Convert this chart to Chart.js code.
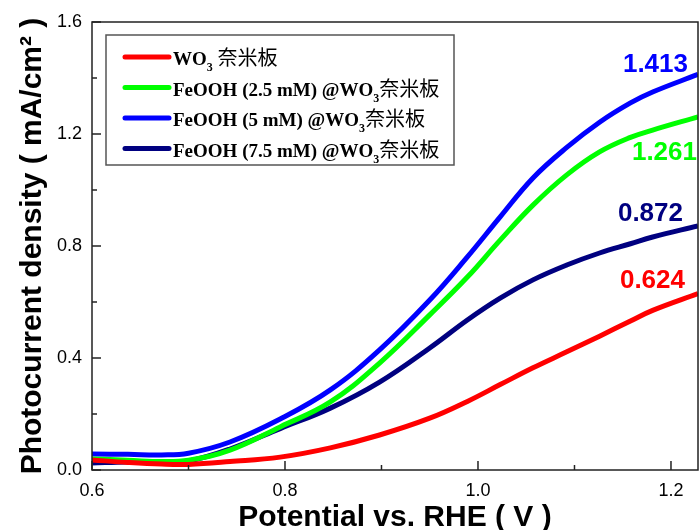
<!DOCTYPE html>
<html>
<head>
<meta charset="utf-8">
<script src="https://cdn.jsdelivr.net/npm/chart.js@4.4.0/dist/chart.umd.min.js"></script>
<style>
html, body { margin: 0; padding: 0; background: #fff; }
</style>
</head>
<body>
<canvas id="graficoLSV" width="700" height="530"></canvas>
<script>
// potencial (V vs RHE) e densidade de fotocorrente (mA/cm2)
const potencial = [0.600, 0.637, 0.672, 0.700, 0.743, 0.795, 0.847, 0.898, 0.950, 0.989, 1.023, 1.057, 1.092, 1.126, 1.158, 1.181, 1.228];
const wo3      = [0.036, 0.027, 0.021, 0.020, 0.030, 0.046, 0.079, 0.125, 0.185, 0.245, 0.305, 0.365, 0.422, 0.478, 0.532, 0.570, 0.630];
const feooh25  = [0.039, 0.035, 0.030, 0.035, 0.071, 0.154, 0.243, 0.382, 0.554, 0.689, 0.821, 0.946, 1.054, 1.136, 1.188, 1.214, 1.261];
const feooh5   = [0.057, 0.056, 0.054, 0.060, 0.100, 0.182, 0.286, 0.429, 0.607, 0.761, 0.904, 1.043, 1.152, 1.242, 1.311, 1.350, 1.413];
const feooh75  = [0.025, 0.029, 0.028, 0.032, 0.075, 0.148, 0.221, 0.314, 0.436, 0.536, 0.614, 0.679, 0.732, 0.775, 0.808, 0.832, 0.872];

const rotulos = ['WO_3 奈米板', 'FeOOH (2.5 mM) @WO_3奈米板', 'FeOOH (5 mM) @WO_3奈米板', 'FeOOH (7.5 mM) @WO_3奈米板'];
const cores = ['#ff0000', '#00ff00', '#0000ff', '#000080'];
const valoresFinais = ['0.624', '1.261', '1.413', '0.872'];

const ticksX = [0.6, 0.7, 0.8, 0.9, 1.0, 1.1, 1.2];
const ticksY = [0.0, 0.2, 0.4, 0.6, 0.8, 1.0, 1.2, 1.4, 1.6];

const series = [wo3, feooh25, feooh5, feooh75];

// texto com subscrito "3" (WO3) e caracteres chineses
function textoRico(ctx, txt, x, y) {
    let cx = x;
    txt.split('_3').forEach((parte, i) => {
        if (i > 0) {
            ctx.font = 'bold 12px "Liberation Serif"';
            ctx.fillText('3', cx, y + 6);
            cx += ctx.measureText('3').width;
        }
        for (const ch of parte) {
            ctx.font = ch.charCodeAt(0) > 0x2e80 ? '20px "Noto Sans CJK TC"' : 'bold 19px "Liberation Serif"';
            ctx.fillText(ch, cx, y);
            cx += ctx.measureText(ch).width;
        }
    });
}

const moldura = {
    id: 'moldura',
    afterDatasetsDraw(chart) {
        const { ctx, chartArea: a, scales: { x, y } } = chart;
        ctx.save();
        ctx.strokeStyle = '#222';
        ctx.lineWidth = 1.5;
        ctx.strokeRect(a.left, a.top, a.right - a.left, a.bottom - a.top);
        // ticks para dentro
        ticksX.forEach((v, i) => {
            const px = x.getPixelForValue(v);
            const len = i % 2 === 0 ? 9 : 5;
            ctx.beginPath(); ctx.moveTo(px, a.bottom); ctx.lineTo(px, a.bottom - len); ctx.stroke();
        });
        ticksY.forEach((v, i) => {
            const py = y.getPixelForValue(v);
            const len = i % 2 === 0 ? 9 : 5;
            ctx.beginPath(); ctx.moveTo(a.left, py); ctx.lineTo(a.left + len, py); ctx.stroke();
        });

        // legenda
        const bx = 106, by = 35, bw = 348, bh = 130;
        ctx.fillStyle = '#fff';
        ctx.fillRect(bx, by, bw, bh);
        ctx.strokeStyle = '#555';
        ctx.lineWidth = 1.5;
        ctx.strokeRect(bx, by, bw, bh);
        ctx.textBaseline = 'alphabetic';
        ctx.textAlign = 'left';
        rotulos.forEach((r, i) => {
            const ly = 57 + i * 30.5;
            ctx.strokeStyle = cores[i];
            ctx.lineWidth = 5;
            ctx.lineCap = 'round';
            ctx.beginPath(); ctx.moveTo(125, ly); ctx.lineTo(169, ly); ctx.stroke();
            ctx.fillStyle = '#000';
            textoRico(ctx, r, 173, ly + 8);
        });

        // valores finais
        const desloc = [[-13, -13], [-1, 36], [-10, -10], [-15, -12]];
        ctx.font = 'bold 26px "Liberation Sans"';
        ctx.textAlign = 'right';
        ctx.textBaseline = 'middle';
        valoresFinais.forEach((t, i) => {
            const s = series[i];
            const px = x.getPixelForValue(potencial[potencial.length - 1]);
            const py = y.getPixelForValue(s[s.length - 1]);
            ctx.fillStyle = cores[i];
            ctx.fillText(t, px + desloc[i][0], py + desloc[i][1]);
        });
        ctx.restore();
    }
};

const ctx = document.getElementById('graficoLSV');
new Chart(ctx, {
    type: 'line',
    data: {
        datasets: series.map((s, i) => ({
            label: rotulos[i],
            data: s.map((v, k) => ({ x: potencial[k], y: v })),
            borderColor: cores[i],
            borderWidth: 5,
            pointRadius: 0,
            fill: false,
            tension: 0.4
        }))
    },
    options: {
        responsive: false,
        animation: false,
        layout: { padding: { top: 22, right: 2, left: 0, bottom: 0 } },
        plugins: {
            legend: { display: false },
            tooltip: { enabled: false }
        },
        scales: {
            x: {
                type: 'linear',
                min: 0.6,
                max: 1.228,
                afterBuildTicks: s => { s.ticks = ticksX.map(v => ({ value: v })); },
                afterFit: s => { s.height = 60; },
                grid: { display: false, drawTicks: false },
                border: { display: false },
                ticks: {
                    autoSkip: false,
                    maxRotation: 0,
                    padding: 10,
                    color: '#000',
                    font: { family: '"Liberation Sans"', size: 18 },
                    callback: (v, i) => i % 2 === 0 ? v.toFixed(1) : ''
                },
                title: {
                    display: true,
                    text: 'Potential vs. RHE ( V )',
                    color: '#000',
                    font: { family: '"Liberation Sans"', size: 30, weight: 'bold', lineHeight: 0.8 },
                    padding: { top: 0, bottom: 0 }
                }
            },
            y: {
                min: 0,
                max: 1.6,
                afterBuildTicks: s => { s.ticks = ticksY.map(v => ({ value: v })); },
                afterFit: s => { s.width = 92; },
                grid: { display: false, drawTicks: false },
                border: { display: false },
                ticks: {
                    autoSkip: false,
                    padding: 10,
                    color: '#000',
                    font: { family: '"Liberation Sans"', size: 18 },
                    callback: (v, i) => i % 2 === 0 ? v.toFixed(1) : ''
                },
                title: {
                    display: true,
                    text: 'Photocurrent density ( mA/cm² )',
                    color: '#000',
                    font: { family: '"Liberation Sans"', size: 30, weight: 'bold', lineHeight: 0.8 },
                    padding: { top: 21, bottom: 0 }
                }
            }
        }
    },
    plugins: [moldura]
});
</script>
</body>
</html>
